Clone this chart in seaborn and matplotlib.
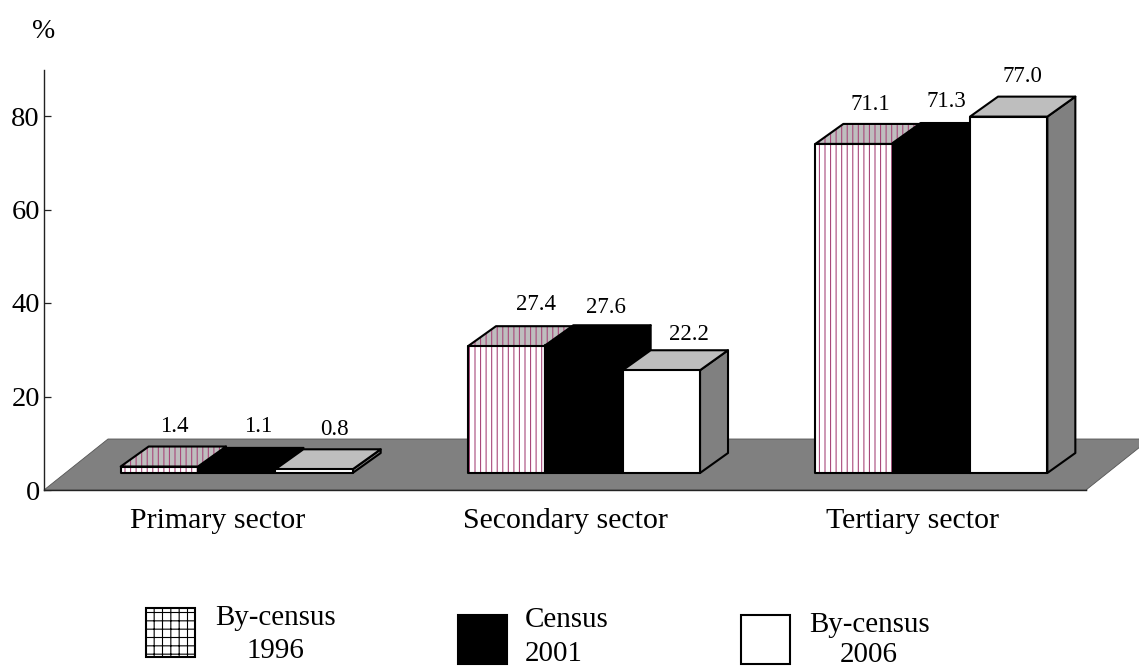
import matplotlib
matplotlib.use("Agg")
import matplotlib.pyplot as plt
import pandas as pd
import seaborn as sns
from matplotlib.patches import Polygon, Rectangle

sectors = ["Primary sector", "Secondary sector", "Tertiary sector"]
censuses = ["By-census 1996", "Census 2001", "By-census 2006"]
by_census_1996 = [1.4, 27.4, 71.1]
census_2001 = [1.1, 27.6, 71.3]
by_census_2006 = [0.8, 22.2, 77.0]
y_ticks = [0, 20, 40, 60, 80]
# pixel offsets of each value label from the front top-centre of its bar, one row per sector
label_offsets_px = [[(15, 40), (22, 41), (20, 40)],
                    [(29, 42), (22, 38), (28, 36)],
                    [(16, 39), (15, 42), (14, 40)]]

sns.set_theme(style="white")
plt.rcParams["font.family"] = ["Liberation Serif", "DejaVu Serif"]
plt.rcParams["hatch.linewidth"] = 0.8
FS = 21.5
W, H = 1139, 667
PURPLE = "#A8497A"
TOP_GREY = "#BEBEBE"
SIDE_GREY = "#808080"

fig = plt.figure(figsize=(W / 100, H / 100), dpi=100, facecolor="white")
ax = fig.add_axes([44 / W, (H - 490) / H, (1086 - 44) / W, 420 / H])

# Front faces are slightly foreshortened against the axis scale of the 3-D original
PROJECTION = 0.99
df = pd.DataFrame({
    "sector": sectors * 3,
    "census": [c for c in censuses for _ in sectors],
    "share": by_census_1996 + census_2001 + by_census_2006,
})
df["drawn"] = df["share"] * PROJECTION

sns.barplot(data=df, x="sector", y="drawn", hue="census", order=sectors, hue_order=censuses,
            palette=["white", "black", "white"], saturation=1, width=0.668, gap=0,
            legend=False, ax=ax)
ax.set_ylim(0, 420 / 4.675)
ax.set_xlim(-0.5, 2.5)

PX_X = 3 / (1086 - 44)          # data units per pixel, x
PX_Y = (420 / 4.675) / 420      # data units per pixel, y
BASE = 17 * PX_Y
DX, DY = 28 * PX_X, 20 * PX_Y
SHIFT = 19 * PX_X

# floor
fx, fy = 64 * PX_X, 51 * PX_Y
ax.add_patch(Polygon([(-0.5, 0), (-0.5 + fx, fy), (2.5 + fx, fy), (2.5, 0)], closed=True,
                     facecolor=SIDE_GREY, edgecolor="#555555", linewidth=0.6,
                     clip_on=False, zorder=1))

styles = [
    dict(front="white", top=TOP_GREY, side=SIDE_GREY, hatch="|||", edge=PURPLE),
    dict(front="black", top="black", side="black", hatch=None, edge="black"),
    dict(front="white", top=TOP_GREY, side=SIDE_GREY, hatch=None, edge="black"),
]

for c_idx, container in enumerate(ax.containers[:3]):
    st = styles[c_idx]
    zz = 2.0 + c_idx
    for s_idx, bar in enumerate(container):
        bar.set_x(bar.get_x() + SHIFT)
        bar.set_y(BASE)
        x0, w, h = bar.get_x(), bar.get_width(), bar.get_height()
        x1, y0, y1 = x0 + w, BASE, BASE + h
        top = [(x0, y1), (x0 + DX, y1 + DY), (x1 + DX, y1 + DY), (x1, y1)]
        side = [(x1, y0), (x1 + DX, y0 + DY), (x1 + DX, y1 + DY), (x1, y1)]
        ax.add_patch(Polygon(side, closed=True, facecolor=st["side"], edgecolor="black",
                             linewidth=1.5, zorder=zz, joinstyle="round"))
        if st["hatch"]:
            ax.add_patch(Polygon(top, closed=True, facecolor=st["top"], edgecolor=st["edge"],
                                 hatch=st["hatch"], linewidth=0, zorder=zz + 0.1))
        ax.add_patch(Polygon(top, closed=True, fill=not st["hatch"],
                             facecolor=st["top"], edgecolor="black", linewidth=1.5,
                             zorder=zz + 0.2, joinstyle="round"))
        bar.set_facecolor(st["front"])
        bar.set_edgecolor(st["edge"])
        bar.set_linewidth(0)
        if st["hatch"]:
            bar.set_hatch(st["hatch"])
        bar.set_zorder(zz + 0.3)
        ax.add_patch(Rectangle((x0, y0), w, h, fill=False, edgecolor="black", linewidth=1.5,
                               zorder=zz + 0.4, joinstyle="round"))
        ox, oy = label_offsets_px[s_idx][c_idx]
        ax.annotate(f"{df['share'].iloc[c_idx * 3 + s_idx]:.1f}", (x0 + w / 2, y1),
                    xytext=(ox * 0.72, oy * 0.72), textcoords="offset points",
                    ha="center", va="center", fontsize=16.5, color="black", zorder=10)

# axes styling
sns.despine(ax=ax, top=True, right=True)
for side_name in ("left", "bottom"):
    ax.spines[side_name].set_color("#222222")
    ax.spines[side_name].set_linewidth(1.0)
    ax.spines[side_name].set_zorder(1.5)
ax.set_xlabel("")
ax.set_ylabel("")
ax.set_yticks(y_ticks)
ax.tick_params(axis="y", direction="in", length=5, width=0.9, color="#222222", left=True,
               labelsize=20.5, pad=3, labelcolor="black")
ax.set_xticks(range(3))
ax.set_xticklabels(sectors)
ax.tick_params(axis="x", which="major", length=0, labelsize=FS, pad=13, labelcolor="black")
ax.set_xticks([0.5, 1.5, 2.5], minor=True)
ax.tick_params(axis="x", which="minor", direction="in", length=5, width=1, color="#222222", bottom=True)
ax.patch.set_alpha(0)


def fx_px(x):
    return x / W


def fy_px(y):
    return 1 - y / H


fig.text(fx_px(44), fy_px(32), "%", ha="center", va="center", fontsize=20, color="black")

# legend
legend_boxes = [(146, 608, "white", "black", "++"), (458, 615, "black", "black", None),
                (741, 615, "white", "black", None)]
for bx, by, fc, ec, ht in legend_boxes:
    fig.patches.append(Rectangle((fx_px(bx), fy_px(by + 49)), 49 / W, 49 / H, transform=fig.transFigure,
                                 facecolor=fc, edgecolor=ec, hatch=ht, linewidth=1.5, figure=fig))
legend_lines = [
    (275, 618, "By-census", "center"), (275, 651, "1996", "center"),
    (525, 620, "Census", "left"), (525, 654, "2001", "left"),
    (869, 625, "By-census", "center"), (869, 655, "2006", "center"),
]
for tx, ty, s, ha in legend_lines:
    fig.text(fx_px(tx), fy_px(ty), s, ha=ha, va="center", fontsize=20.9, color="black")

fig.savefig("out.png", dpi=100, facecolor="white")
